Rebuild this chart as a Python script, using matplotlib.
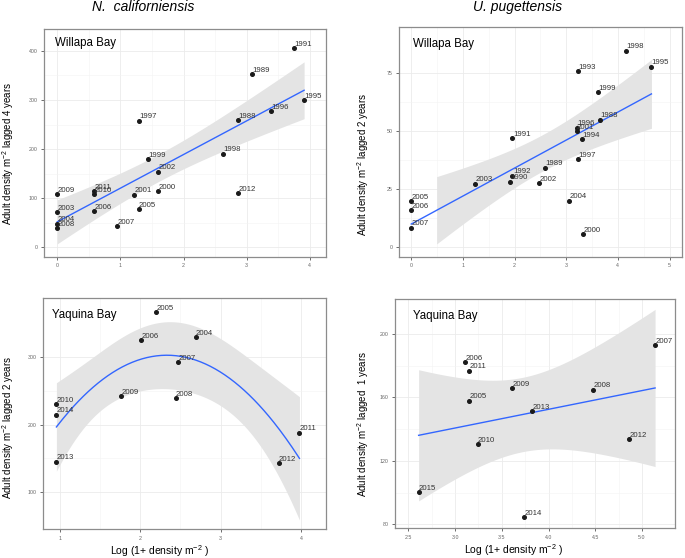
import numpy as np
import matplotlib
matplotlib.use('Agg')
import matplotlib.pyplot as plt

plt.rcParams['font.family'] = ['Liberation Sans', 'DejaVu Sans']
plt.rcParams['mathtext.default'] = 'regular'

# ---- data ---------------------------------------------------------------
# N. californiensis, Willapa Bay (adults lagged 4 years)
wb_nc_years = ['1991', '1989', '1995', '1996', '1988', '1997', '1998', '1999', '2002',
               '2000', '2012', '2001', '2005', '2007', '2009', '2011', '2010', '2006',
               '2003', '2004', '2008']
wb_nc_x = [3.75, 3.08, 3.91, 3.38, 2.86, 1.29, 2.62, 1.43, 1.60,
           1.60, 2.87, 1.22, 1.29, 0.95, 0.00, 0.58, 0.58, 0.58,
           0.00, 0.00, 0.00]
wb_nc_y = [405, 352, 300, 278, 259, 258, 191, 179, 154,
           115, 110, 107, 77, 43, 108, 115, 109, 73,
           71, 48, 39]

# U. pugettensis, Willapa Bay (adults lagged 2 years)
wb_up_years = ['1998', '1993', '1995', '1999', '1988', '1996', '2001', '1994', '1991',
               '1997', '1989', '1992', '1990', '2003', '2002', '2004', '2000', '2005',
               '2006', '2007']
wb_up_x = [4.16, 3.23, 4.65, 3.62, 3.65, 3.20, 3.20, 3.30, 1.96,
           3.23, 2.58, 1.96, 1.92, 1.24, 2.47, 3.06, 3.33, 0.00,
           0.00, 0.00]
wb_up_y = [84.5, 75.6, 77.6, 66.5, 54.8, 51.3, 49.9, 46.3, 46.9,
           37.9, 34.1, 30.7, 28.1, 27.2, 27.4, 19.9, 5.3, 19.6,
           15.9, 8.2]

# N. californiensis, Yaquina Bay (adults lagged 2 years)
yb_nc_years = ['2005', '2006', '2004', '2007', '2009', '2008', '2010', '2014', '2011',
               '2012', '2013']
yb_nc_x = [2.20, 2.01, 2.69, 2.47, 1.76, 2.44, 0.96, 0.96, 3.98, 3.72, 0.96]
yb_nc_y = [367, 326, 330, 293, 243, 239, 231, 215, 188, 143, 145]

# U. pugettensis, Yaquina Bay (adults lagged 1 year)
yb_up_years = ['2007', '2006', '2011', '2009', '2008', '2005', '2013', '2010', '2012',
               '2015', '2014']
yb_up_x = [5.14, 3.11, 3.15, 3.61, 4.48, 3.15, 3.82, 3.24, 4.86, 2.61, 3.74]
yb_up_y = [192.7, 182.0, 176.9, 166.0, 164.9, 157.9, 151.2, 130.7, 133.8, 100.4, 84.4]

# 97.5% t quantiles for the residual degrees of freedom used below
T975 = {8: 2.306, 9: 2.262, 18: 2.101, 19: 2.093}


def fit_with_band(x, y, deg, xs):
    x = np.asarray(x, float)
    y = np.asarray(y, float)
    X = np.vander(x, deg + 1)
    beta, *_ = np.linalg.lstsq(X, y, rcond=None)
    resid = y - X @ beta
    df = len(x) - (deg + 1)
    s2 = resid @ resid / df
    cov = s2 * np.linalg.inv(X.T @ X)
    Xs = np.vander(xs, deg + 1)
    yhat = Xs @ beta
    se = np.sqrt(np.einsum('ij,jk,ik->i', Xs, cov, Xs))
    return yhat, T975[df] * se


def draw_panel(ax, years, x, y, deg, bay, xlim, ylim, xticks, yticks,
               ylabel, label_pos, band_from=None):
    xs = np.linspace(min(x), max(x), 200)
    yhat, half = fit_with_band(x, y, deg, xs)
    m = xs >= (band_from if band_from is not None else -np.inf)
    ax.fill_between(xs[m], (yhat - half)[m], (yhat + half)[m],
                    color='#e4e4e4', lw=0, zorder=1)
    ax.plot(xs, yhat, color='#3366ff', lw=1.0, zorder=2)
    ax.plot(x, y, 'o', color='#1a1a1a', ms=2.6, zorder=3)
    for yr, xi, yi in zip(years, x, y):
        ax.annotate(yr, (xi, yi), xytext=(0.3, 0.2), textcoords='offset points',
                    ha='left', va='bottom', fontsize=5.6, color='#333333', zorder=4)

    ax.set_xlim(*xlim)
    ax.set_ylim(*ylim)
    ax.set_xticks(xticks)
    ax.set_yticks(yticks)
    xt = np.asarray(xticks, float)
    yt = np.asarray(yticks, float)
    ax.set_xticks((xt[:-1] + xt[1:]) / 2, minor=True)
    ax.set_yticks((yt[:-1] + yt[1:]) / 2, minor=True)
    ax.grid(True, which='major', color='#ebebeb', lw=0.6)
    ax.grid(True, which='minor', color='#f3f3f3', lw=0.4)
    ax.set_axisbelow(True)
    ax.tick_params(which='major', length=2.5, width=0.6, color='#555555',
                   labelsize=3.8, labelcolor='#666666', pad=2)
    ax.tick_params(which='minor', length=0)
    for sp in ax.spines.values():
        sp.set_color('#8c8c8c')
        sp.set_linewidth(0.9)

    ax.text(label_pos[0], label_pos[1], bay, transform=ax.transAxes,
            ha='left', va='top', fontsize=8.3)
    ax.set_ylabel(ylabel, fontsize=7, va='center')


def plot_shrimp_recruitment():
    fig = plt.figure(figsize=(6.85, 5.58), dpi=100)

    ax1 = fig.add_axes([0.0642, 0.5394, 0.412, 0.4086])
    ax2 = fig.add_axes([0.5825, 0.5394, 0.413, 0.4116])
    ax3 = fig.add_axes([0.0632, 0.0514, 0.4127, 0.4140])
    ax4 = fig.add_axes([0.5766, 0.0532, 0.4088, 0.4110])

    draw_panel(ax1, wb_nc_years, wb_nc_x, wb_nc_y, 1, 'Willapa Bay',
               (-0.21, 4.26), (-19.8, 444.6), [0, 1, 2, 3, 4], [0, 100, 200, 300, 400],
               r'Adult density m$^{-2}$ lagged 4 years', (0.039, 0.965))
    draw_panel(ax2, wb_up_years, wb_up_x, wb_up_y, 1, 'Willapa Bay',
               (-0.237, 5.24), (-4.4, 94.5), [0, 1, 2, 3, 4, 5], [0, 25, 50, 75],
               r'Adult density m$^{-2}$ lagged 2 years', (0.048, 0.952), band_from=0.48)
    draw_panel(ax3, yb_nc_years, yb_nc_x, yb_nc_y, 2, 'Yaquina Bay',
               (0.797, 4.31), (44.4, 388), [1, 2, 3, 4], [100, 200, 300],
               r'Adult density m$^{-2}$ lagged 2 years', (0.032, 0.952))
    draw_panel(ax4, yb_up_years, yb_up_x, yb_up_y, 1, 'Yaquina Bay',
               (2.357, 5.353), (77.5, 222), [2.5, 3.0, 3.5, 4.0, 4.5, 5.0],
               [80, 120, 160, 200],
               r'Adult density m$^{-2}$ lagged  1 years', (0.063, 0.952))
    ax4.set_xticklabels(['2.5', '3.0', '3.5', '4.0', '4.5', '5.0'])

    ax1.yaxis.set_label_coords(-0.128, 0.454)
    ax2.yaxis.set_label_coords(-0.128, 0.405)
    ax3.yaxis.set_label_coords(-0.124, 0.443)
    ax4.yaxis.set_label_coords(-0.115, 0.455)

    xlab = r'Log (1+ density m$^{-2}$ )'
    ax3.set_xlabel(xlab, fontsize=7.5, va='center')
    ax4.set_xlabel(xlab, fontsize=7.5, va='center')
    ax3.xaxis.set_label_coords(0.413, -0.094)
    ax4.xaxis.set_label_coords(0.425, -0.094)

    fig.text(143 / 685, 1 - 7 / 558, 'N.  californiensis', style='italic',
             ha='center', va='center', fontsize=10)
    fig.text(518 / 685, 1 - 7 / 558, 'U. pugettensis', style='italic',
             ha='center', va='center', fontsize=10)

    fig.savefig('out.png', dpi=100)


if __name__ == '__main__':
    plot_shrimp_recruitment()
